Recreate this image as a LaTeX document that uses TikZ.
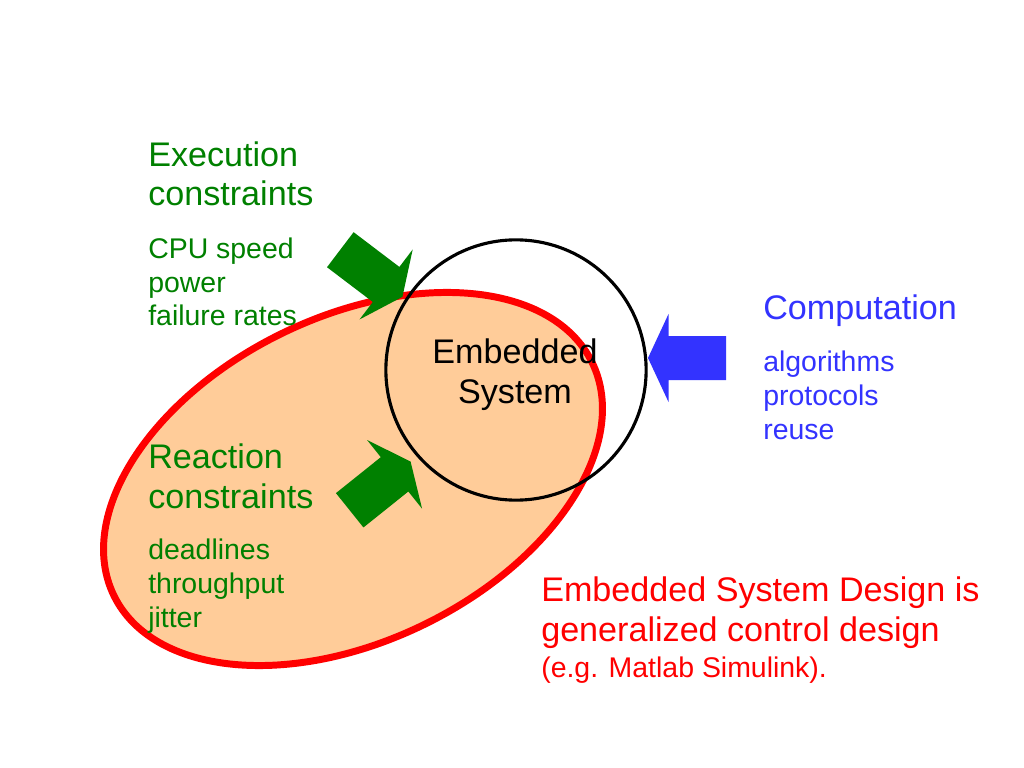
\documentclass[tikz,border=0pt]{standalone}
\usepackage{fontspec}
\setmainfont{Liberation Sans}
\usetikzlibrary{positioning}
\definecolor{cgreen}{HTML}{008000}
\definecolor{cblue}{HTML}{3333FF}
\definecolor{cred}{HTML}{FF0000}
\definecolor{cpeach}{HTML}{FFCC99}
\tikzset{
  % slide text, 24pt titles and 20pt lists (base = last line)
  title/.style = {font=\fontsize{24}{28}\selectfont, align=left, inner sep=0pt},
  items/.style = {font=\fontsize{20}{23.8}\selectfont, align=left, inner sep=0pt},
  sysbox/.style = {circle, draw=black, line width=2.2pt, inner sep=0pt,
                   minimum size=183pt},
  blob/.style = {draw=cred, line width=4.9pt, fill=cpeach},
}

\begin{document}
\begin{tikzpicture}[x=0.703125pt, y=-0.703125pt]
\useasboundingbox (0,0) rectangle (1024,768);
% design space
\draw[blob, rotate around={26:(353,479)}] (353,479) ellipse [x radius=266, y radius=162];
% block arrows: tail x/y, direction, colour
\foreach \tx/\ty/\ang/\col in {340.3/249.7/-37.2/cgreen, 349.7/510.3/38.7/cgreen, 726/358/180/cblue}
  {\fill[\col, shift={(\tx,\ty)}, rotate=\ang]
     (0,-22) -- (57.5,-22) -- (57.5,-44) -- (78,0) -- (57.5,44) -- (57.5,22) -- (0,22) -- cycle;}
% the system
\node[sysbox] (sys) at (516,370) {};
\node[title, align=center, anchor=base] (sysl) at (515,403) {Embedded\\System};
% constraints
\node[title, text=cgreen, anchor=base west] (exec) at (148,206) {Execution\\constraints};
\node[items, text=cgreen, anchor=base west] (execl) at (148,326) {CPU speed\\power\\failure rates};
\node[title, text=cgreen, anchor=base west] (react) at (148,508) {Reaction\\constraints};
\node[items, text=cgreen, anchor=base west] (reactl) at (148,627)
  {deadlines\\throughput\\jitter};
\node[title, text=cblue, anchor=base west] (comp) at (763,319) {Computation};
\node[items, text=cblue, anchor=base west] (compl) at (763,439) {algorithms\\protocols\\reuse};
% claim
\node[title, text=cred, anchor=base west] (claim) at (541,641)
  {Embedded System Design is\\generalized control design};
\node[items, text=cred, anchor=base west] (claimn) at (541,677) {(e.g. Matlab Simulink).};
\end{tikzpicture}
\end{document}
